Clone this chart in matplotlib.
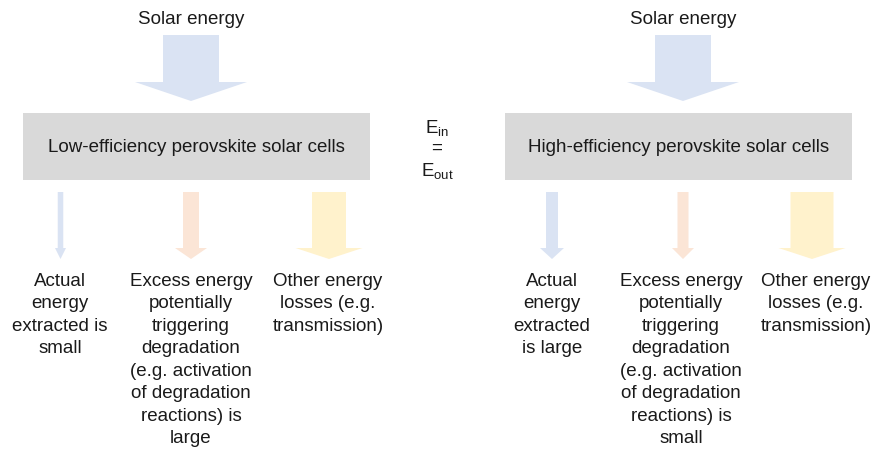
import matplotlib
matplotlib.use("Agg")
import matplotlib.pyplot as plt
from matplotlib.patches import Polygon, Rectangle

plt.rcParams['font.family'] = ['Liberation Sans', 'DejaVu Sans']
plt.rcParams['mathtext.fontset'] = 'custom'
plt.rcParams['mathtext.rm'] = 'Liberation Sans'
plt.rcParams['mathtext.it'] = 'Liberation Sans'

# ---- content ----
panel_titles = ["Low-efficiency perovskite solar cells",
                "High-efficiency perovskite solar cells"]
input_label = "Solar energy"
output_labels = [
    ["Actual\nenergy\nextracted is\nsmall",
     "Excess energy\npotentially\ntriggering\ndegradation\n(e.g. activation\nof degradation\nreactions) is\nlarge",
     "Other energy\nlosses (e.g.\ntransmission)"],
    ["Actual\nenergy\nextracted\nis large",
     "Excess energy\npotentially\ntriggering\ndegradation\n(e.g. activation\nof degradation\nreactions) is\nsmall",
     "Other energy\nlosses (e.g.\ntransmission)"],
]
# relative arrow widths (shaft width, px) per output: [actual, excess, other]
output_widths = [[5.5, 16, 34], [12, 11, 43]]
input_width = 56
arrow_colors = ["#dae3f3", "#fbe5d6", "#fff2cc"]
box_color = "#d9d9d9"

# ---- layout ----
W, H = 873, 449
fig = plt.figure(figsize=(W / 100, H / 100), dpi=100)
ax = fig.add_axes([0, 0, 1, 1])
ax.set_xlim(0, W)
ax.set_ylim(H, 0)
ax.axis('off')

panels = [
    dict(box=(23, 370), center=191, out_x=[60.5, 191, 329], text_x=[60, 191, 328]),
    dict(box=(505, 852), center=683, out_x=[552, 683, 812], text_x=[552, 681, 816]),
]
FS = 13.5
TC = '#1a1a1a'


def down_arrow(cx, shaft_w, head_w, top, head_y, tip, color):
    pts = [(cx - shaft_w / 2, top), (cx + shaft_w / 2, top),
           (cx + shaft_w / 2, head_y), (cx + head_w / 2, head_y),
           (cx, tip), (cx - head_w / 2, head_y), (cx - shaft_w / 2, head_y)]
    ax.add_patch(Polygon(pts, closed=True, facecolor=color, edgecolor='none'))


for p, title, labels, widths in zip(panels, panel_titles, output_labels, output_widths):
    c = p['center']
    ax.text(c, 19, input_label, ha='center', va='center', fontsize=FS, color=TC)
    down_arrow(c, input_width, 112, 35, 82, 101, arrow_colors[0])
    x0, x1 = p['box']
    ax.add_patch(Rectangle((x0, 113), x1 - x0, 67, facecolor=box_color, edgecolor='none'))
    ax.text((x0 + x1) / 2, 147, title, ha='center', va='center', fontsize=FS, color=TC)
    for ox, tx, w, col, lab in zip(p['out_x'], p['text_x'], widths, arrow_colors, labels):
        hw = min(2 * w, 67)
        down_arrow(ox, w, hw, 192, 248, 259, col)
        ax.text(tx, 273, lab, ha='center', va='top', fontsize=FS, color=TC,
                linespacing=1.42)

ax.text(437, 128, r'$\mathrm{E_{in}}$', ha='center', va='center', fontsize=FS, color=TC)
ax.text(437, 148, '=', ha='center', va='center', fontsize=FS, color=TC)
ax.text(437, 171, r'$\mathrm{E_{out}}$', ha='center', va='center', fontsize=FS, color=TC)

fig.savefig("out.png", dpi=100, facecolor='white')
